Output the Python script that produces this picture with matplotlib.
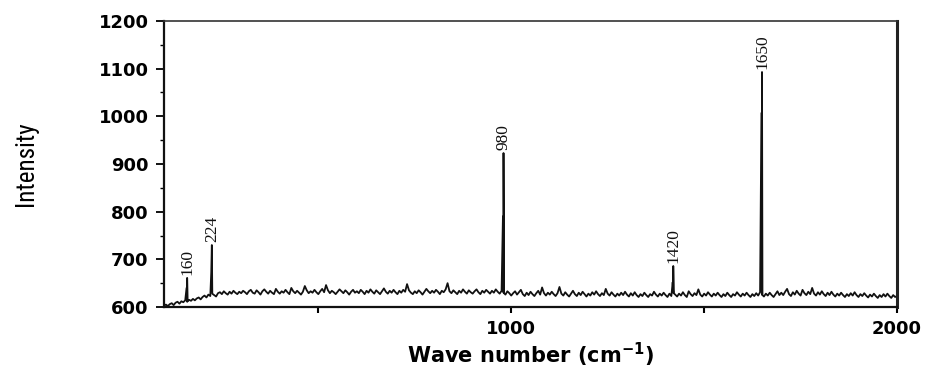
import numpy as np
import matplotlib
matplotlib.use("Agg")
import matplotlib.pyplot as plt
from matplotlib import font_manager
from matplotlib.ticker import FixedLocator, MultipleLocator

# Raman baseline, sampled every 5 cm^-1 from 100 to 2000
wavenumber_start = 100
wavenumber_step = 5
baseline = [
    603, 605, 602, 606, 608, 604, 609, 611, 607, 612, 610, 614, 611, 615, 613, 617, 614, 618, 620, 616,
    621, 624, 620, 626, 623, 628, 625, 622, 629, 631, 627, 633, 629, 626, 632, 628, 634, 630, 627, 632,
    629, 634, 631, 627, 633, 636, 630, 628, 635, 631, 626, 633, 637, 632, 628, 634, 630, 627, 638, 632,
    628, 633, 630, 636, 631, 627, 640, 633, 629, 634, 630, 626, 632, 644, 635, 629, 633, 630, 636, 631,
    627, 633, 638, 631, 646, 635, 629, 634, 631, 627, 632, 637, 633, 629, 635, 631, 626, 632, 636, 630,
    633, 629, 636, 632, 627, 634, 630, 637, 632, 628, 635, 631, 627, 633, 639, 632, 628, 634, 630, 636,
    631, 627, 634, 630, 636, 632, 648, 635, 630, 627, 633, 629, 635, 631, 626, 632, 638, 633, 629, 634,
    630, 636, 632, 627, 634, 631, 637, 650, 633, 629, 635, 631, 627, 634, 630, 637, 632, 628, 635, 631,
    628, 633, 637, 631, 627, 634, 630, 636, 632, 628, 634, 630, 637, 632, 628, 634, 630, 626, 633, 629,
    624, 629, 633, 626, 631, 636, 627, 623, 630, 625, 632, 627, 623, 629, 634, 626, 641, 629, 624, 630,
    626, 632, 627, 623, 629, 642, 628, 624, 631, 626, 622, 628, 634, 627, 623, 630, 625, 632, 627, 622,
    628, 624, 631, 626, 633, 627, 623, 629, 625, 638, 628, 624, 631, 626, 622, 628, 624, 630, 625, 632,
    626, 622, 629, 624, 631, 625, 621, 627, 623, 630, 625, 621, 627, 624, 632, 626, 622, 628, 624, 630,
    625, 621, 628, 623, 630, 626, 622, 628, 624, 631, 625, 621, 633, 627, 623, 629, 625, 637, 626, 622,
    628, 624, 631, 626, 622, 628, 624, 630, 625, 621, 627, 623, 630, 625, 621, 627, 624, 631, 626, 622,
    628, 624, 630, 625, 621, 627, 623, 629, 624, 631, 626, 622, 628, 624, 630, 625, 621, 627, 633, 625,
    630, 625, 632, 638, 627, 623, 631, 626, 634, 628, 624, 636, 629, 625, 632, 627, 640, 628, 624, 631,
    626, 633, 627, 623, 630, 625, 632, 626, 622, 628, 624, 630, 625, 621, 627, 623, 629, 624, 631, 625,
    621, 627, 623, 629, 624, 620, 626, 622, 628, 623, 619, 625, 621, 627, 622, 628, 623, 619, 625, 621,
    623,
]

# Labelled Raman bands: position, apex intensity and the shoulder just below the apex
peak_positions = [160, 224, 980, 1420, 1650]
peak_heights = [661, 730, 923, 686, 1093]
peak_shoulders = [640, 673, 790, 652, 1007]
peak_labels = ["160", "224", "980", "1420", "1650"]


def condensed_sans():
    """Return FontProperties for a narrow sans face if one is installed."""
    wanted = ["Liberation Sans Narrow", "Roboto Condensed", "Open Sans Condensed",
              "Noto Sans Condensed", "Noto Sans SemiCondensed", "DejaVu Sans Condensed"]
    entries = font_manager.fontManager.ttflist
    for name in wanted:
        for f in entries:
            if f.name == name and f.weight in (400, "normal", "regular") and f.style == "normal":
                return font_manager.FontProperties(fname=f.fname)
    for f in entries:
        if f.name in ("Noto Sans", "Roboto", "Open Sans", "DejaVu Sans") and \
                "condensed" in str(f.stretch) and f.style == "normal" and \
                f.weight in (400, "normal", "regular"):
            return font_manager.FontProperties(fname=f.fname)
    return font_manager.FontProperties(family="DejaVu Sans")


x_base = wavenumber_start + wavenumber_step * np.arange(len(baseline))
x_all = list(x_base)
y_all = list(baseline)
for p, h, s in zip(peak_positions, peak_heights, peak_shoulders):
    x_all += [p - 1.5, p, p + 1.2]
    y_all += [s, h, float(np.interp(p + 1.2, x_base, baseline))]
order = np.argsort(x_all, kind="stable")
x_all = np.asarray(x_all, dtype=float)[order]
y_all = np.asarray(y_all, dtype=float)[order]

fig = plt.figure(figsize=(9.35, 3.71), dpi=100)
ax = fig.add_axes([0.1754, 0.1725, 0.7840, 0.7709])

ax.plot(x_all, y_all, color="#111111", lw=1.3)

for p, h, lab in zip(peak_positions, peak_heights, peak_labels):
    ax.annotate(lab, xy=(p, h), xytext=(0, 2), textcoords="offset points",
                rotation=90, ha="center", va="bottom",
                family=["Liberation Serif", "DejaVu Serif"], fontsize=12.5,
                color="#111111")

ax.set_xlim(100, 2000)
ax.set_ylim(600, 1200)

ax.xaxis.set_major_locator(FixedLocator([500, 1000, 1500, 2000]))
ax.set_xticklabels(["", "1000", "", "2000"])
ax.yaxis.set_major_locator(MultipleLocator(100))
ax.yaxis.set_minor_locator(MultipleLocator(50))

tick_fp = font_manager.FontProperties(family="DejaVu Sans", weight="bold", size=13)
for lbl in ax.get_xticklabels() + ax.get_yticklabels():
    lbl.set_fontproperties(tick_fp)

ax.tick_params(axis="y", which="major", direction="out", length=6, width=1.3, pad=5)
ax.tick_params(axis="y", which="minor", direction="out", length=3, width=1.0)
ax.tick_params(axis="x", which="major", direction="out", length=4, width=1.5, pad=5)

for side in ("left", "bottom"):
    ax.spines[side].set_linewidth(1.6)
    ax.spines[side].set_color("#111111")
ax.spines["right"].set_linewidth(2.2)
ax.spines["right"].set_color("#222222")
ax.spines["top"].set_linewidth(1.2)
ax.spines["top"].set_color("#333333")

ax.set_xlabel("Wave number (cm$^{\\mathbf{-1}}$)", fontsize=15, fontweight="bold",
              family="DejaVu Sans")
ax.xaxis.set_label_coords(0.5, -0.118)

ylab_fp = condensed_sans()
ylab_fp.set_size(18)
ax.set_ylabel("Intensity", fontproperties=ylab_fp)
ax.yaxis.set_label_coords(-0.172, 0.5)

fig.savefig("out.png", dpi=100, facecolor="white")
